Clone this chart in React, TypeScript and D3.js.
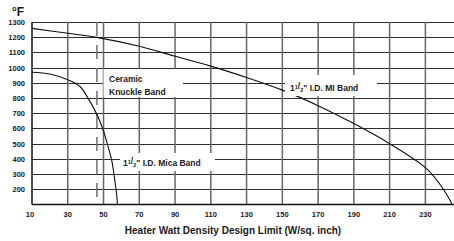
import React, {useEffect, useRef} from 'react'
import * as d3 from 'd3'

const W = 454
const H = 241
const margin = {top: 22, right: 0, bottom: 36.5, left: 32}

const xTicks = [10, 30, 50, 70, 90, 110, 130, 150, 170, 190, 210, 230]
const yTicks = [200, 300, 400, 500, 600, 700, 800, 900, 1000, 1100, 1200, 1300]

// 1 1/2" I.D. MI Band
const miX = [10, 30, 46.3, 70, 90, 110, 130, 150, 170, 190, 210, 230, 238, 243, 245]
const miY = [1258, 1226, 1199, 1140, 1075, 1010, 935, 852, 750, 632, 500, 342, 235, 145, 100]

// 1 1/2" I.D. Mica Band
const micaX = [10, 20, 30, 36.8, 42.4, 46.3, 49.7, 52.5, 54.7, 56.4, 57.3, 57.8]
const micaY = [970, 958, 920, 876, 778, 692, 593, 482, 383, 251, 170, 100]

// ceramic knuckle band limit (dashed)
const ceramicX = 46.3

const font = "'Liberation Sans', Arial, sans-serif"

function App() {
  const ref = useRef<SVGSVGElement>(null)

  useEffect(() => {
    const svg = d3.select(ref.current)
    svg.selectAll('*').remove()

    const x = d3.scaleLinear().domain([10, 246]).range([margin.left, W - margin.right])
    const y = d3.scaleLinear().domain([100, 1300]).range([H - margin.bottom, margin.top])

    const g = svg.append('g')

    // horizontal grid
    g.selectAll('line.h')
      .data(yTicks)
      .enter()
      .append('line')
      .attr('x1', margin.left)
      .attr('x2', W)
      .attr('y1', d => Math.round(y(d)) + 0.5)
      .attr('y2', d => Math.round(y(d)) + 0.5)
      .attr('stroke', '#2e2e2e')
      .attr('stroke-width', 1.1)

    // vertical grid
    g.selectAll('line.v')
      .data(xTicks.slice(1))
      .enter()
      .append('line')
      .attr('x1', d => x(d))
      .attr('x2', d => x(d))
      .attr('y1', y(1300))
      .attr('y2', y(100))
      .attr('stroke', '#666')
      .attr('stroke-width', 1.5)

    // dashed limit line
    g.append('line')
      .attr('x1', x(ceramicX))
      .attr('x2', x(ceramicX))
      .attr('y1', y(1300))
      .attr('y2', y(100))
      .attr('stroke', '#707070')
      .attr('stroke-width', 1.5)
      .attr('stroke-dasharray', '14,9')

    // axes lines
    g.append('line')
      .attr('x1', margin.left).attr('x2', margin.left)
      .attr('y1', y(1300)).attr('y2', y(100))
      .attr('stroke', '#111').attr('stroke-width', 1.5)
    g.append('line')
      .attr('x1', margin.left).attr('x2', W)
      .attr('y1', y(100)).attr('y2', y(100))
      .attr('stroke', '#111').attr('stroke-width', 1.5)

    const miLine = d3.line<number>()
      .x(d => x(d))
      .y((d, i) => y(miY[i]))
      .curve(d3.curveCatmullRom.alpha(0.5))

    const micaLine = d3.line<number>()
      .x(d => x(d))
      .y((d, i) => y(micaY[i]))
      .curve(d3.curveCatmullRom.alpha(0.5))

    g.append('path')
      .datum(miX)
      // @ts-ignore
      .attr('d', miLine)
      .attr('fill', 'none')
      .attr('stroke', '#111')
      .attr('stroke-width', 1.1)

    g.append('path')
      .datum(micaX)
      // @ts-ignore
      .attr('d', micaLine)
      .attr('fill', 'none')
      .attr('stroke', '#111')
      .attr('stroke-width', 1.1)

    // label boxes
    const boxes = [
      {x0: 103.5, x1: 183, y0: 69, y1: 97},
      {x0: 120, x1: 215, y0: 153, y1: 171},
      {x0: 285, x1: 377, y0: 75, y1: 96},
    ]
    g.selectAll('rect.box')
      .data(boxes)
      .enter()
      .append('rect')
      .attr('x', d => d.x0)
      .attr('y', d => d.y0)
      .attr('width', d => d.x1 - d.x0)
      .attr('height', d => d.y1 - d.y0)
      .attr('fill', 'white')

    const label = (tx: number, ty: number) =>
      g.append('text')
        .attr('x', tx)
        .attr('y', ty)
        .attr('font-family', font)
        .attr('font-weight', 'bold')
        .attr('font-size', 8.5)
        .attr('fill', '#222')

    label(109, 82).text('Ceramic')
    label(109, 95).text('Knuckle Band')

    const frac = (t: any, rest: string) => {
      t.append('tspan').text('1')
      t.append('tspan').attr('font-size', 5.5).attr('dy', -2.5).text('1')
      t.append('tspan').text('/')
      t.append('tspan').attr('font-size', 5.5).attr('dy', 3.5).text('2')
      t.append('tspan').attr('dy', -1).text('" ' + rest)
    }
    frac(label(123, 166), 'I.D. Mica Band')
    frac(label(290, 91), 'I.D. MI Band')

    // y tick labels
    g.selectAll('text.yt')
      .data(yTicks)
      .enter()
      .append('text')
      .attr('x', 25)
      .attr('y', d => y(d) + 3)
      .attr('text-anchor', 'end')
      .attr('font-family', font)
      .attr('font-weight', 'bold')
      .attr('font-size', 7.5)
      .attr('fill', '#1a1a1a')
      .text(d => d)

    // x tick labels
    g.selectAll('text.xt')
      .data(xTicks)
      .enter()
      .append('text')
      .attr('x', d => x(d) - (d === 10 ? 2 : 0))
      .attr('y', 217)
      .attr('text-anchor', 'middle')
      .attr('font-family', font)
      .attr('font-weight', 'bold')
      .attr('font-size', 7.5)
      .attr('fill', '#1a1a1a')
      .text(d => d)

    g.append('text')
      .attr('x', 12)
      .attr('y', 16)
      .attr('font-family', font)
      .attr('font-weight', 'bold')
      .attr('font-size', 12)
      .attr('fill', '#1a1a1a')
      .text('°F')

    g.append('text')
      .attr('x', 233)
      .attr('y', 234)
      .attr('text-anchor', 'middle')
      .attr('font-family', font)
      .attr('font-weight', 'bold')
      .attr('font-size', 10)
      .attr('fill', '#1a1a1a')
      .text('Heater Watt Density Design Limit (W/sq. inch)')
  }, [])

  return (
    <svg ref={ref} width={W} height={H}
      style={{position: 'absolute', left: 0, top: 0, background: 'white'}} />
  )
}

export default App
